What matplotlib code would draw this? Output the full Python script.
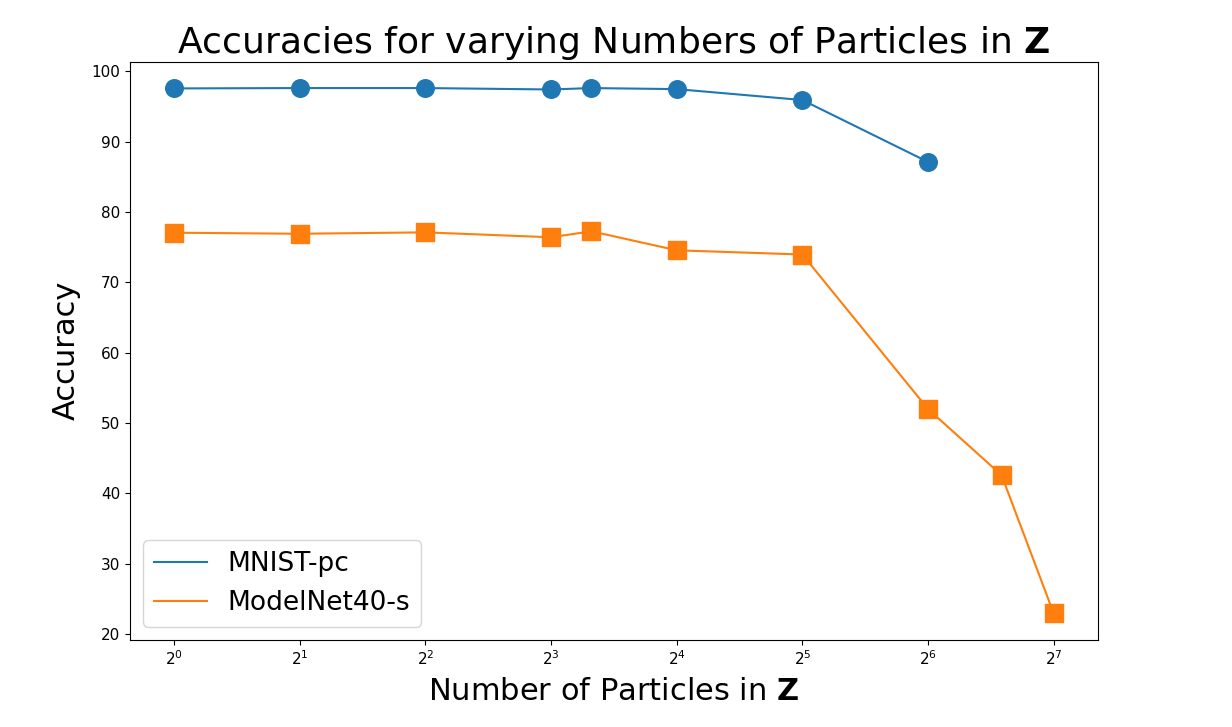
import matplotlib
matplotlib.use('Agg')
import matplotlib.pyplot as plt

# number of particles and accuracies
n_mnist = [1, 2, 4, 8, 10, 16, 32, 64]
acc_mnist = [97.55, 97.6, 97.6, 97.4, 97.6, 97.45, 95.9, 87.1]

n_modelnet = [1, 2, 4, 8, 10, 16, 32, 64, 96, 128]
acc_modelnet = [77.05, 76.9, 77.1, 76.4, 77.25, 74.55, 73.95, 52.0, 42.6, 22.95]

fig, ax = plt.subplots(figsize=(12.32, 7.27), dpi=100)
fig.subplots_adjust(left=0.1055, right=0.891, top=0.915, bottom=0.12)

ax.plot(n_mnist, acc_mnist, color='C0', label='MNIST-pc')
ax.scatter(n_mnist, acc_mnist, color='C0', marker='o', s=160)
ax.plot(n_modelnet, acc_modelnet, color='C1', label='ModelNet40-s')
ax.scatter(n_modelnet, acc_modelnet, color='C1', marker='s', s=160)

ax.set_xscale('log', base=2)
ax.tick_params(labelsize=11)
ax.set_title(r'Accuracies for varying Numbers of Particles in $\mathbf{Z}$', fontsize=26)
ax.set_xlabel(r'Number of Particles in $\mathbf{Z}$', fontsize=22, labelpad=6)
ax.set_ylabel('Accuracy', fontsize=22, labelpad=8)
ax.legend(loc='lower left', fontsize=19)

plt.savefig('out.png', dpi=100)
